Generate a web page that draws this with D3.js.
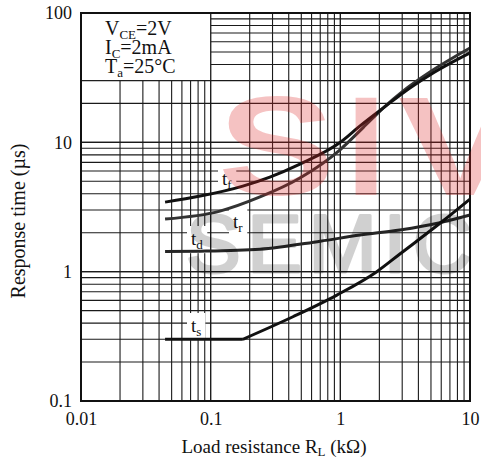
<!DOCTYPE html>
<html>
<head>
<meta charset="utf-8">
<script src="https://cdn.jsdelivr.net/npm/d3@7"></script>
<style>
  html, body { margin: 0; padding: 0; background: #fff; }
  svg { display: block; }
</style>
</head>
<body>
<svg id="chart" width="481" height="459"></svg>
<script>
// Axis ticks
const xTicks = [0.01, 0.1, 1, 10];
const xTickLabels = ["0.01", "0.1", "1", "10"];
const yTicks = [0.1, 1, 10, 100];
const yTickLabels = ["0.1", "1", "10", "100"];

// Response time curves (µs) versus load resistance (kΩ)
const rlTf = [0.0445, 0.083, 0.177, 0.286, 0.488, 1.0, 1.42, 2.29, 3.04, 4.91, 10];
const tf   = [3.45, 3.84, 4.59, 5.39, 6.79, 10.0, 13.4, 19.4, 24.1, 33.2, 49.1];
const rlTr = [0.0445, 0.118, 0.24, 0.488, 1.0, 1.5, 2.2, 3.04, 4.91, 10];
const tr   = [2.55, 2.94, 3.78, 5.3, 8.8, 13.0, 18.9, 24.9, 35.0, 53.6];
const rlTd = [0.0445, 0.083, 0.24, 0.70, 1.42, 2.88, 5.86, 10];
const td   = [1.43, 1.44, 1.49, 1.72, 1.92, 2.10, 2.39, 2.74];
const rlTs = [0.0445, 0.177, 0.431, 0.94, 1.91, 2.88, 6.07, 10];
const ts   = [0.30, 0.30, 0.448, 0.659, 1.0, 1.37, 2.43, 3.64];

const serif = "'Liberation Serif', 'Times New Roman', serif";
const svg = d3.select("#chart");

const x = d3.scaleLog().domain([0.01, 10]).range([81, 470]);
const y = d3.scaleLog().domain([0.1, 100]).range([401, 13]);

// Grid: every 1..9 step in each decade
const xGrid = [], yGrid = [];
for (let d = 0.01; d < 10; d *= 10) for (let k = 1; k <= 10; k++) xGrid.push(+(d * k).toPrecision(3));
for (let d = 0.1; d < 100; d *= 10) for (let k = 1; k <= 10; k++) yGrid.push(+(d * k).toPrecision(3));

const grid = svg.append("g").attr("stroke", "#1a1a1a").attr("stroke-width", 1.1);
grid.selectAll(".gx").data(xGrid).join("line")
  .attr("x1", d => x(d)).attr("x2", d => x(d))
  .attr("y1", y(0.1)).attr("y2", y(100));
grid.selectAll(".gy").data(yGrid).join("line")
  .attr("x1", x(0.01)).attr("x2", x(10))
  .attr("y1", d => y(d)).attr("y2", d => y(d));

// Conditions box in the upper-left corner (no grid inside)
svg.append("rect")
  .attr("x", x(0.01) + 1).attr("y", y(100) + 1)
  .attr("width", x(0.1) - x(0.01) - 1.6).attr("height", y(30) - y(100) - 1.6)
  .attr("fill", "#fff");

const cond = svg.append("g").attr("font-family", serif).attr("font-size", 20).attr("fill", "#111");
function subText(g, px, py, main, sub, rest, size, subSize) {
  const t = g.append("text").attr("x", px).attr("y", py).attr("font-size", size);
  t.append("tspan").text(main);
  t.append("tspan").attr("font-size", subSize).attr("dy", size * 0.22).text(sub);
  if (rest) t.append("tspan").attr("dy", -size * 0.22).text(rest);
  return t;
}
subText(cond, 105, 35, "V", "CE", "=2V", 20, 13);
subText(cond, 105, 54, "I", "C", "=2mA", 20, 13);
subText(cond, 105, 73, "T", "a", "=25°C", 20, 13);

// Curve labels on white patches
const labels = [
  { name: "f", px: 222, py: 185 },
  { name: "r", px: 233, py: 228 },
  { name: "d", px: 191, py: 245 },
  { name: "s", px: 191, py: 332 }
];
const lab = svg.append("g").attr("font-family", serif).attr("fill", "#111");
labels.forEach(l => {
  const bg = lab.append("rect").attr("fill", "#fff");
  const t = subText(lab, l.px, l.py, "t", l.name, null, 19, 13);
  const b = t.node().getBBox();
  bg.attr("x", b.x - 4).attr("y", b.y - 2).attr("width", b.width + 8).attr("height", b.height + 3);
});

// Curves
const line = d3.line().x(d => x(d[0])).y(d => y(d[1])).curve(d3.curveMonotoneX);
const straight = d3.line().x(d => x(d[0])).y(d => y(d[1]));
const zip = (a, b) => a.map((v, i) => [v, b[i]]);

const curves = svg.append("g").attr("fill", "none").attr("stroke-width", 3).attr("stroke-linecap", "butt");
curves.append("path").attr("d", line(zip(rlTd, td))).attr("stroke", "#262626");
curves.append("path").attr("d", line(zip(rlTr, tr))).attr("stroke", "#333");
curves.append("path").attr("d", line(zip(rlTf, tf))).attr("stroke", "#111");
const tsPts = zip(rlTs, ts);
curves.append("path").attr("d", straight(tsPts.slice(0, 2))).attr("stroke", "#111");
curves.append("path").attr("d", line(tsPts.slice(1))).attr("stroke", "#111");

// Plot frame
svg.append("rect")
  .attr("x", x(0.01)).attr("y", y(100))
  .attr("width", x(10) - x(0.01)).attr("height", y(0.1) - y(100))
  .attr("fill", "none").attr("stroke", "#111").attr("stroke-width", 2);

// Axes
const xAxis = svg.append("g").attr("transform", `translate(0,${y(0.1)})`)
  .call(d3.axisBottom(x).tickValues(xTicks).tickSize(0).tickPadding(11)
    .tickFormat((d, i) => xTickLabels[i]));
const yAxis = svg.append("g").attr("transform", `translate(${x(0.01)},0)`)
  .call(d3.axisLeft(y).tickValues(yTicks).tickSize(0).tickPadding(9)
    .tickFormat((d, i) => yTickLabels[i]));
[xAxis, yAxis].forEach(a => {
  a.select(".domain").remove();
  a.selectAll("text").attr("font-family", serif).attr("font-size", 18).attr("fill", "#111");
});

// Axis titles
const xt = svg.append("text").attr("x", 274).attr("y", 453)
  .attr("text-anchor", "middle").attr("font-family", serif).attr("font-size", 19).attr("fill", "#111");
xt.append("tspan").text("Load resistance R");
xt.append("tspan").attr("font-size", 13).attr("dy", 3).text("L");
xt.append("tspan").attr("dy", -3).text(" (kΩ)");

svg.append("text").attr("transform", "translate(25,221) rotate(-90)")
  .attr("text-anchor", "middle").attr("font-family", serif).attr("font-size", 20).attr("fill", "#111")
  .text("Response time (µs)");

// Brand mark overlay
const mark = svg.append("g").attr("pointer-events", "none");
const bigLetters = [
  { ch: "S", x0: 218, w: 117 },
  { ch: "I", x0: 346, w: 40 },
  { ch: "V", x0: 398, w: 124 }
];
mark.selectAll(".big").data(bigLetters).join("text")
  .attr("x", d => d.x0).attr("y", 195)
  .attr("textLength", d => d.w).attr("lengthAdjust", "spacingAndGlyphs")
  .attr("font-family", "'Liberation Sans', Arial, sans-serif").attr("font-weight", "bold")
  .attr("font-size", 141).attr("fill", "rgb(220,35,35)").attr("fill-opacity", 0.28)
  .text(d => d.ch);
mark.append("g").attr("opacity", 0.18)
  .append("text").attr("x", 186).attr("y", 272)
  .attr("textLength", 286).attr("lengthAdjust", "spacing")
  .attr("font-family", "'Liberation Sans', Arial, sans-serif")
  .attr("font-size", 82).attr("fill", "#000")
  .attr("stroke", "#000").attr("stroke-width", 3).attr("stroke-linejoin", "round")
  .text("SEMIC");
</script>
</body>
</html>
